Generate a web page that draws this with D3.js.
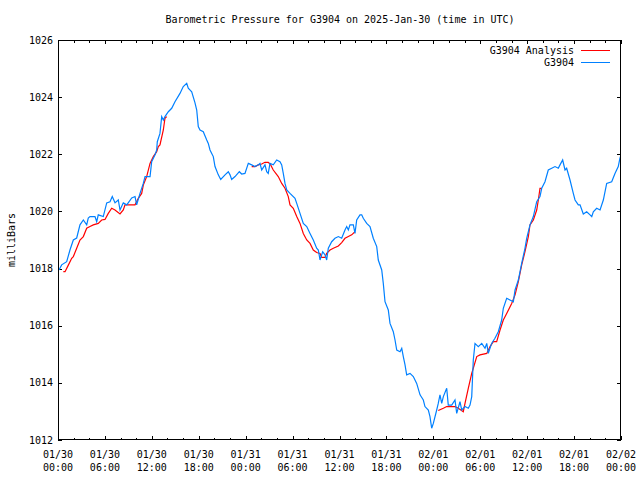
<!DOCTYPE html>
<html>
<head>
<meta charset="utf-8">
<script src="https://cdn.jsdelivr.net/npm/d3@7"></script>
<style>
  html, body { margin: 0; padding: 0; background: #fff; }
  svg { display: block; }
  text { font-family: "DejaVu Sans Mono", "Liberation Mono", monospace; font-size: 10px; fill: #000; }
</style>
</head>
<body>
<svg id="chart" width="640" height="480"></svg>
<script>
// ---- Data (hours since 2025-01-30 00:00 UTC, pressure in milliBars) ----
const titleText = "Barometric Pressure for G3904 on 2025-Jan-30 (time in UTC)";
const yLabel = "milliBars";
const seriesNames = ["G3904 Analysis", "G3904"];
const xTickLabels = [
  ["01/30","00:00"],["01/30","06:00"],["01/30","12:00"],["01/30","18:00"],
  ["01/31","00:00"],["01/31","06:00"],["01/31","12:00"],["01/31","18:00"],
  ["02/01","00:00"],["02/01","06:00"],["02/01","12:00"],["02/01","18:00"],
  ["02/02","00:00"]
];
const yTicks = [1012, 1014, 1016, 1018, 1020, 1022, 1024, 1026];

const stationHours = [0.13,0.47,1.11,1.53,1.96,2.39,2.81,3.24,3.67,3.87,4.09,4.73,4.95,5.15,5.79,6.23,6.65,6.94,7.29,7.71,7.93,8.35,8.79,9.43,9.85,10.06,10.49,10.91,11.13,11.77,11.98,12.41,12.62,12.7,13.04,13.26,13.47,13.68,14.11,14.54,14.96,15.6,16.02,16.46,16.66,17.1,17.52,17.74,17.94,18.16,18.58,19.02,19.22,19.44,19.66,19.86,20.08,20.5,20.81,21.36,21.78,22.0,22.21,22.64,23.19,23.49,23.91,24.34,24.77,25.19,25.62,25.83,26.05,26.47,26.69,26.89,27.11,27.53,27.97,28.39,28.61,28.81,29.03,29.25,29.67,30.31,30.53,30.95,31.37,31.81,32.23,32.65,33.08,33.29,33.51,33.85,34.15,34.36,34.57,35.0,35.42,35.85,36.28,36.7,36.92,37.13,37.34,37.77,37.98,38.2,38.62,38.84,39.04,39.48,39.9,40.32,40.76,40.96,41.4,41.6,41.82,42.24,42.46,42.88,43.1,43.32,43.74,43.96,44.16,44.38,44.59,45.02,45.44,45.87,46.3,46.72,46.93,47.36,47.57,47.79,48.0,48.43,48.63,48.85,49.07,49.28,49.71,49.91,50.35,50.77,50.99,51.41,51.63,52.05,52.47,52.69,52.91,53.11,53.33,53.75,54.19,54.61,54.83,55.03,55.46,55.88,56.31,56.74,56.95,57.38,57.8,58.23,58.45,58.87,59.3,59.72,59.94,60.36,60.79,61.22,61.64,61.86,62.28,62.7,63.14,63.56,63.98,64.2,64.54,64.84,65.05,65.48,65.9,66.12,66.54,66.76,67.18,67.61,68.04,68.26,68.46,68.89,69.32,69.74,70.17,70.81,71.23,71.65,71.86,72.0];
const stationValues = [1017.95,1018.13,1018.24,1018.65,1019.0,1019.07,1019.53,1019.7,1019.53,1019.77,1019.82,1019.82,1019.64,1019.88,1019.82,1020.3,1020.34,1020.52,1020.3,1020.4,1020.05,1020.3,1020.23,1020.47,1020.52,1020.23,1020.63,1020.98,1021.22,1021.22,1021.74,1021.98,1022.15,1022.44,1022.73,1023.32,1023.2,1023.32,1023.49,1023.61,1023.84,1024.13,1024.37,1024.48,1024.31,1024.19,1023.8,1023.55,1022.97,1022.85,1022.79,1022.5,1022.38,1022.15,1022.03,1021.92,1021.57,1021.28,1021.12,1021.28,1021.39,1021.28,1021.12,1021.22,1021.39,1021.31,1021.33,1021.68,1021.63,1021.57,1021.63,1021.68,1021.45,1021.63,1021.39,1021.33,1021.68,1021.63,1021.8,1021.74,1021.63,1021.33,1020.98,1020.75,1020.63,1020.46,1020.28,1019.93,1019.58,1019.47,1019.23,1019.0,1018.71,1018.65,1018.3,1018.59,1018.48,1018.3,1018.71,1018.94,1019.06,1019.12,1019.06,1019.35,1019.47,1019.35,1019.53,1019.53,1019.23,1019.7,1019.88,1019.88,1019.76,1019.58,1019.47,1019.06,1018.77,1018.3,1017.95,1017.48,1016.84,1016.55,1016.08,1015.79,1015.5,1015.15,1015.09,1015.21,1014.92,1014.63,1014.28,1014.33,1014.22,1013.98,1013.58,1013.4,1013.17,1013.05,1012.82,1012.41,1012.58,1013.05,1013.28,1013.58,1013.28,1013.52,1013.81,1013.22,1013.22,1013.4,1012.93,1013.34,1013.05,1013.17,1013.11,1013.22,1013.52,1014.8,1015.38,1015.27,1015.38,1015.21,1015.38,1015.03,1015.38,1015.56,1015.79,1016.2,1016.61,1016.96,1016.9,1016.84,1017.25,1017.6,1018.18,1018.71,1019.06,1019.53,1019.82,1020.34,1020.52,1020.81,1021.04,1021.45,1021.51,1021.57,1021.51,1021.63,1021.8,1021.45,1021.51,1021.1,1020.63,1020.4,1020.23,1020.23,1019.91,1019.99,1019.88,1019.82,1019.99,1020.11,1020.05,1020.4,1020.98,1021.04,1021.33,1021.57,1021.86,1021.98];

// Analysis series: three separate segments
const analysisHours1 = [0.68,0.9,1.32,1.75,1.96,2.39,2.81,3.24,3.67,4.09,4.51,5.15,5.59,6.01,6.43,6.87,7.29,7.93,8.35,8.57,9.85,10.27,10.7,10.91,11.34,11.77,12.19,12.62,12.83,13.04,13.47,13.68,13.9];
const analysisValues1 = [1017.89,1017.89,1018.12,1018.36,1018.42,1018.71,1019.0,1019.12,1019.41,1019.47,1019.53,1019.58,1019.7,1019.72,1019.93,1020.11,1020.05,1019.91,1020.05,1020.23,1020.23,1020.46,1020.63,1020.92,1021.22,1021.68,1021.92,1022.09,1022.27,1022.33,1022.85,1023.26,1023.32];
const analysisHours2 = [24.77,25.19,25.62,26.05,26.47,26.89,27.2,27.53,28.17,28.61,29.03,29.45,29.67,30.09,30.53,30.95,31.37,31.81,32.23,32.65,33.08,33.51,33.72,34.15,34.36,34.79,35.21,35.85,36.28,36.7,37.13,37.56,37.98];
const analysisValues2 = [1021.57,1021.57,1021.63,1021.66,1021.72,1021.72,1021.63,1021.45,1021.22,1020.98,1020.81,1020.52,1020.23,1020.11,1019.82,1019.58,1019.23,1019.0,1018.88,1018.65,1018.56,1018.53,1018.39,1018.39,1018.53,1018.65,1018.71,1018.79,1018.91,1019.06,1019.12,1019.18,1019.29];
const analysisHours3 = [48.63,49.28,49.71,50.77,51.19,51.83,52.05,52.47,52.91,53.11,53.55,53.97,54.83,55.25,55.67,56.1,56.53,56.95,57.38,58.02,58.45,58.87,59.3,59.72,60.15,60.36,60.79,61.22,61.43,61.64,61.86];
const analysisValues3 = [1013.03,1013.11,1013.17,1013.17,1013.11,1012.99,1013.28,1013.81,1014.33,1014.51,1014.92,1014.98,1015.03,1015.27,1015.44,1015.44,1015.85,1016.2,1016.43,1016.78,1017.08,1017.54,1018.13,1018.59,1019.12,1019.53,1019.7,1020.05,1020.4,1020.81,1020.81];

// ---- Layout ----
const W = 640, H = 480;
const margin = { left: 58, right: 19, top: 40, bottom: 40 };
const svg = d3.select("#chart");
const x = d3.scaleLinear().domain([0, 72]).range([margin.left, W - margin.right]);
const y = d3.scaleLinear().domain([1012, 1026]).range([H - margin.bottom, margin.top]);
const blue = "#0080ff", red = "#ff0000";

// title
svg.append("text").attr("x", 340).attr("y", 23).attr("text-anchor", "middle").text(titleText);
// y label
svg.append("text").attr("transform", "translate(15,240) rotate(-90)").attr("text-anchor", "middle").text(yLabel);

const g = svg.append("g");
const majorX = d3.range(0, 73, 6);
const minorX = d3.range(0, 73, 2).filter(h => h % 6 !== 0);

// axes via d3 axis generators (inward ticks)
const bottomAxis = d3.axisBottom(x).tickValues(majorX).tickSize(-4).tickFormat("");
const bottomMinor = d3.axisBottom(x).tickValues(minorX).tickSize(-2.5).tickFormat("");
const topAxis = d3.axisTop(x).tickValues(majorX).tickSize(-4).tickFormat("");
const topMinor = d3.axisTop(x).tickValues(minorX).tickSize(-2.5).tickFormat("");
const leftAxis = d3.axisLeft(y).tickValues(yTicks).tickSize(-4).tickFormat("");
const rightAxis = d3.axisRight(y).tickValues(yTicks).tickSize(-4).tickFormat("");

function styleAxis(sel) {
  sel.select(".domain").remove();
  sel.selectAll("line").attr("stroke", "#000").attr("shape-rendering", "crispEdges");
}
g.append("g").attr("transform", `translate(0,${H - margin.bottom})`).call(bottomAxis).call(styleAxis);
g.append("g").attr("transform", `translate(0,${H - margin.bottom})`).call(bottomMinor).call(styleAxis);
g.append("g").attr("transform", `translate(0,${margin.top})`).call(topAxis).call(styleAxis);
g.append("g").attr("transform", `translate(0,${margin.top})`).call(topMinor).call(styleAxis);
g.append("g").attr("transform", `translate(${margin.left},0)`).call(leftAxis).call(styleAxis);
g.append("g").attr("transform", `translate(${W - margin.right},0)`).call(rightAxis).call(styleAxis);

// y tick labels
svg.selectAll("text.ylab").data(yTicks).enter().append("text")
  .attr("class", "ylab").attr("x", margin.left - 5).attr("y", d => y(d) + 3.5)
  .attr("text-anchor", "end").text(d => d);
// x tick labels (two lines)
const xl = svg.selectAll("text.xlab").data(majorX).enter().append("text")
  .attr("class", "xlab").attr("text-anchor", "middle");
xl.append("tspan").attr("x", d => x(d)).attr("y", 458).text((d, i) => xTickLabels[i][0]);
xl.append("tspan").attr("x", d => x(d)).attr("y", 471).text((d, i) => xTickLabels[i][1]);

// clip
svg.append("clipPath").attr("id", "clip").append("rect")
  .attr("x", margin.left).attr("y", margin.top)
  .attr("width", W - margin.left - margin.right).attr("height", H - margin.top - margin.bottom);

const line = d3.line().x(d => x(d[0])).y(d => y(d[1]));
const plot = svg.append("g").attr("clip-path", "url(#clip)");

const segs = [[analysisHours1, analysisValues1],[analysisHours2, analysisValues2],[analysisHours3, analysisValues3]];
segs.forEach(([hs, vs]) => {
  plot.append("path").datum(hs.map((h, i) => [h, vs[i]]))
    .attr("fill", "none").attr("stroke", red).attr("stroke-width", 1.2).attr("d", line);
});
plot.append("path").datum(stationHours.map((h, i) => [h, stationValues[i]]))
  .attr("fill", "none").attr("stroke", blue).attr("stroke-width", 1.2).attr("d", line);

// border
svg.append("rect").attr("x", margin.left + 0.5).attr("y", margin.top + 0.5)
  .attr("width", W - margin.left - margin.right - 1).attr("height", H - margin.top - margin.bottom - 1)
  .attr("fill", "none").attr("stroke", "#000").attr("shape-rendering", "crispEdges");

// legend
const legend = svg.append("g");
[[seriesNames[0], red, 50], [seriesNames[1], blue, 62]].forEach(([name, col, yy]) => {
  legend.append("text").attr("x", 574).attr("y", yy + 3.5).attr("text-anchor", "end").text(name);
  legend.append("line").attr("x1", 581).attr("x2", 610).attr("y1", yy + 0.5).attr("y2", yy + 0.5)
    .attr("stroke", col).attr("stroke-width", 1).attr("shape-rendering", "crispEdges");
});
</script>
</body>
</html>
